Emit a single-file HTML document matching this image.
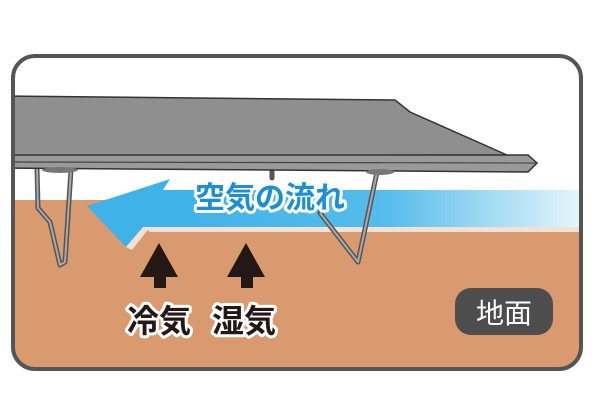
<!DOCTYPE html>
<html><head><meta charset="utf-8"><style>
html,body{margin:0;padding:0;background:#fff;}
svg{display:block}
</style></head><body>
<svg width="600" height="400" viewBox="0 0 600 400" xmlns="http://www.w3.org/2000/svg">
<defs>
<clipPath id="c"><rect x="13" y="56" width="568" height="313" rx="22"/></clipPath>
<linearGradient id="bg" x1="0" x2="1" y1="0" y2="0">
<stop offset="0" stop-color="#3fb2e8"/><stop offset="0.55" stop-color="#55bcec"/><stop offset="0.8" stop-color="#a6dcf4"/><stop offset="1" stop-color="#e6f5fc"/>
</linearGradient>
</defs>
<g clip-path="url(#c)">
<rect x="0" y="0" width="600" height="400" fill="#fff"/>
<rect x="0" y="200" width="600" height="200" fill="#d99a70"/>
<!-- blue band -->
<polygon points="143,227 150,232 600,232 600,227" fill="#f3e2d4"/>
<rect x="150" y="190" width="430" height="37" fill="url(#bg)"/>
<polygon points="170,179 163,190 200,190 200,227 143,227 126,247 87,206" fill="#3fb2e8"/>
<polygon points="126,247 143,227 150,227 132,250" fill="#f3e2d4"/>
<!-- legs -->
<g fill="none" stroke="#555" stroke-width="5" stroke-linejoin="round" stroke-linecap="round">
<path d="M37,168 L38,208 L50,222 L60,265 L65,262 L71,170"/>
<path d="M377,172 L358,262 L320,213"/>
<path d="M272,165 L272,178"/>
</g>
<g fill="none" stroke="#aaa" stroke-width="2" stroke-linejoin="round">
<path d="M37,168 L38,208 L50,222 L60,265 L65,262 L71,170"/>
<path d="M377,172 L358,262 L320,213"/>
</g>
<!-- table -->
<polygon points="0,96 395,100 410,112 507,155 0,156" fill="#8f8f8f" stroke="#333" stroke-width="1.5"/>
<polygon points="0,155 528,155 537,163 528,172 0,168" fill="#999" stroke="#333" stroke-width="1.5"/>
<line x1="0" y1="162" x2="536" y2="163" stroke="#444" stroke-width="1.2"/>
<ellipse cx="60" cy="170" rx="18" ry="3" fill="#777"/>
<ellipse cx="380" cy="172" rx="14" ry="3" fill="#777"/>
</g>
<rect x="13" y="56" width="568" height="313" rx="22" fill="none" stroke="#555" stroke-width="4"/>
<!-- text -->
<text x="270" y="208" text-anchor="middle" font-family="'Liberation Sans','Noto Sans CJK JP',sans-serif" font-weight="bold" font-size="30" fill="#1a8fd8" stroke="#fff" stroke-width="6" paint-order="stroke" stroke-linejoin="round">空気の流れ</text>
<g fill="#231815">
<polygon points="159,243 140,277 154,277 154,288 166,288 166,277 178,277"/>
<polygon points="246,243 227,277 241,277 241,288 253,288 253,277 265,277"/>
</g>
<g font-family="'Liberation Sans','Noto Sans CJK JP',sans-serif" font-weight="bold" font-size="32" fill="#231815" stroke="#fff" stroke-width="6" paint-order="stroke" stroke-linejoin="round">
<text x="127" y="332">冷気</text>
<text x="212" y="332">湿気</text>
</g>
<rect x="455" y="288" width="98" height="47" rx="16" fill="#4d4d4d"/>
<text x="504" y="323" text-anchor="middle" font-family="'Liberation Sans','Noto Sans CJK JP',sans-serif" font-size="28" fill="#fff">地面</text>
</svg>
</body></html>
